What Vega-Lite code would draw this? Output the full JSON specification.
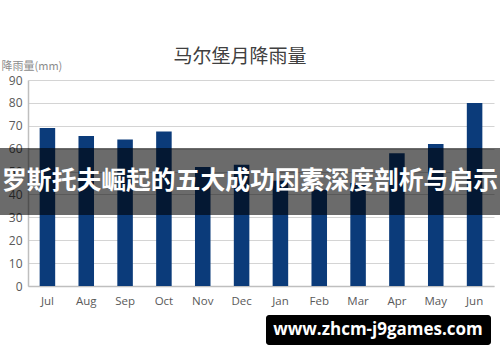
{
  "$schema": "https://vega.github.io/schema/vega-lite/v6.json",
  "width": 466,
  "height": 206,
  "autosize": {"type": "none"},
  "padding": {"left": 28, "top": 80, "right": 6, "bottom": 76},
  "background": "white",
  "title": {
    "text": "马尔堡月降雨量",
    "frame": "group",
    "anchor": "middle",
    "dx": -21,
    "offset": -7,
    "fontSize": 19,
    "fontWeight": "normal",
    "font": "Noto Sans CJK SC",
    "color": "#404040"
  },
  "config": {
    "view": {"stroke": null},
    "font": "Open Sans"
  },
  "encoding": {
    "y": {
      "field": "rain",
      "type": "quantitative",
      "scale": {"domain": [0, 90], "nice": false},
      "axis": {
        "values": [0, 10, 20, 30, 40, 50, 60, 70, 80, 90],
        "labelOverlap": false,
        "title": "降雨量(mm)",
        "titleFont": "Noto Sans CJK SC",
        "titleFontSize": 11,
        "titleFontWeight": "normal",
        "titleColor": "#8c8c8c",
        "titleAngle": 0,
        "titleAlign": "left",
        "titleBaseline": "middle",
        "titleX": -27,
        "titleY": -14,
        "labelFontSize": 12,
        "labelColor": "#595959",
        "labelPadding": 6,
        "ticks": false,
        "domainColor": "#bfbfbf",
        "domainWidth": 1.5,
        "gridColor": "#d4d4d4",
        "gridWidth": 1
      }
    }
  },
  "layer": [
    {
      "data": {
        "values": [
          {"month": "Jul", "rain": 69},
          {"month": "Aug", "rain": 65.5},
          {"month": "Sep", "rain": 64},
          {"month": "Oct", "rain": 67.5},
          {"month": "Nov", "rain": 52},
          {"month": "Dec", "rain": 53},
          {"month": "Jan", "rain": 46},
          {"month": "Feb", "rain": 42},
          {"month": "Mar", "rain": 45},
          {"month": "Apr", "rain": 58},
          {"month": "May", "rain": 62},
          {"month": "Jun", "rain": 80}
        ]
      },
      "mark": {"type": "bar", "color": "#0b3b7a"},
      "encoding": {
        "x": {
          "field": "month",
          "type": "nominal",
          "sort": null,
          "scale": {"paddingInner": 0.6, "paddingOuter": 0.3},
          "axis": {
            "title": null,
            "labelAngle": 0,
            "labelFontSize": 11.5,
            "labelColor": "#595959",
            "labelPadding": 9,
            "ticks": false,
            "domainColor": "#bfbfbf",
            "domainWidth": 1.5
          }
        }
      }
    },
    {
      "data": {"values": [{"rain": 60.3, "rain_end": 31}]},
      "mark": {"type": "rect", "color": "black", "opacity": 0.58, "clip": false},
      "encoding": {
        "x": {"value": -28},
        "x2": {"value": 472},
        "y2": {"field": "rain_end"}
      }
    },
    {
      "data": {"values": [{"label": "罗斯托夫崛起的五大成功因素深度剖析与启示", "rain": 45.3}]},
      "mark": {"type": "text", "color": "white", "fontSize": 24.8, "fontWeight": "bold", "font": "Noto Sans CJK SC", "align": "center", "baseline": "middle", "clip": false},
      "encoding": {
        "x": {"value": 222},
        "text": {"field": "label"}
      }
    },
    {
      "data": {"values": [{"rain": -12.7, "rain_end": -25.8}]},
      "mark": {"type": "rect", "color": "black", "cornerRadius": 3, "clip": false},
      "encoding": {
        "x": {"value": 238},
        "x2": {"value": 463},
        "y2": {"field": "rain_end"}
      }
    },
    {
      "data": {"values": [{"label": "www.zhcm-j9games.com", "rain": -19.4}]},
      "mark": {"type": "text", "color": "white", "fontSize": 17, "fontWeight": "bold", "font": "Open Sans", "align": "center", "baseline": "middle", "clip": false},
      "encoding": {
        "x": {"value": 350},
        "text": {"field": "label"}
      }
    }
  ]
}
